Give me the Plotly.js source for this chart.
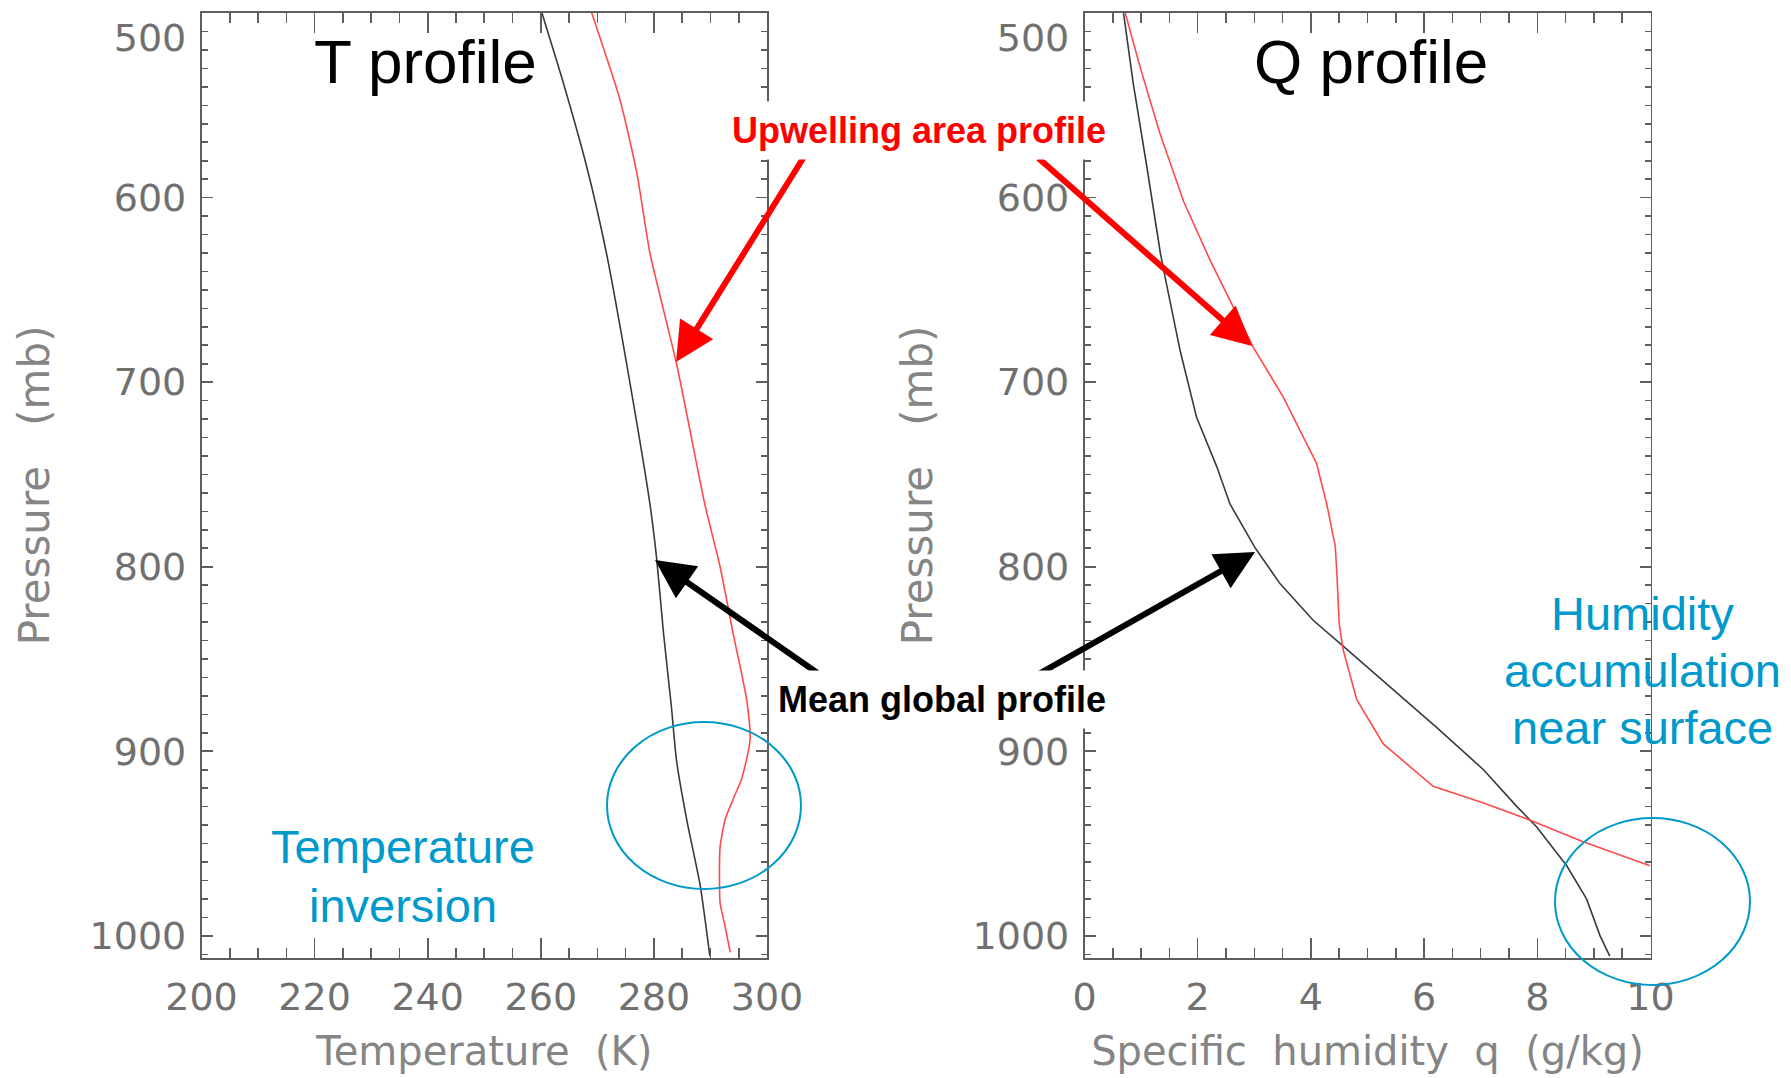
<!DOCTYPE html>
<html>
<head>
<meta charset="utf-8">
<script src="https://cdn.plot.ly/plotly-3.0.1.min.js"></script>
<style>
html,body{margin:0;padding:0;background:#fff;}
#chart{width:1791px;height:1078px;}
</style>
</head>
<body>
<div id="chart"></div>
<script>
// ---------------- data ----------------
// Temperature profiles (pressure in mb, temperature in K)
const tMeanP = [500, 538, 583, 630, 701, 766, 796, 836, 876, 905, 937, 973, 1011];
const tMeanK = [260.2, 264.0, 268.1, 271.6, 275.8, 279.3, 280.5, 281.7, 283.1, 284.0, 285.8, 288.2, 289.9];
const tUpP   = [500, 547, 587, 630, 690, 766, 800, 836, 872, 894, 915, 926, 937, 952, 970, 982, 995, 1009];
const tUpK   = [269.0, 274.0, 277.0, 279.3, 284.0, 289.0, 291.7, 294.0, 296.4, 297.0, 295.5, 294.0, 292.6, 291.7, 291.6, 291.7, 292.6, 293.5];
// Specific humidity profiles (pressure in mb, q in g/kg)
const qMeanP = [500, 538, 583, 630, 647, 683, 719, 746, 766, 790, 809, 829, 843, 865, 887, 910, 930, 941, 962, 980, 1000, 1011];
const qMeanV = [0.69, 0.86, 1.10, 1.34, 1.45, 1.69, 1.98, 2.34, 2.57, 3.02, 3.45, 4.04, 4.57, 5.40, 6.22, 7.05, 7.64, 7.99, 8.52, 8.87, 9.11, 9.28];
const qUpP   = [500, 529, 565, 602, 634, 659, 681, 708, 744, 766, 789, 804, 831, 845, 872, 896, 919, 928, 938, 949, 962];
const qUpV   = [0.72, 0.98, 1.33, 1.75, 2.22, 2.63, 2.98, 3.51, 4.10, 4.28, 4.43, 4.46, 4.50, 4.57, 4.81, 5.28, 6.16, 7.05, 7.93, 8.81, 9.99];
// tick labels
const tempTicks  = [200, 220, 240, 260, 280, 300];
const humTicks   = [0, 2, 4, 6, 8, 10];
const pressTicks = [500, 600, 700, 800, 900, 1000];

// ---------------- layout helpers ----------------
const W = 1791, H = 1078;
const px = v => v / W;
const py = v => 1 - v / H;

const axisCol = '#5e5e5e';
const tickFont = {family: 'DejaVu Sans', size: 38, color: '#707070'};
const xTitleFont = {family: 'DejaVu Sans', size: 40, color: '#858585'};
const yTitleFont = {family: 'DejaVu Sans', size: 42, color: '#858585'};
const blue = '#0099cc';

// the label sitting on the top edge of the frame is pushed down (as in the reference) so it is not cut off
const pressText = pressTicks.map((v, i) => i === 0 ? '<br>' + v : String(v));

function xAx(domain, range, ticks, minorDt, title, anchor) {
  return {
    domain: domain, range: range, anchor: anchor, autorange: false,
    tickmode: 'array', tickvals: ticks, ticktext: ticks.map(String),
    ticks: 'inside', ticklen: 20, tickwidth: 1.6, tickcolor: axisCol,
    minor: {tickmode: 'linear', tick0: range[0], dtick: minorDt, ticks: 'inside', ticklen: 10, tickwidth: 1.6, tickcolor: axisCol, showgrid: false},
    showline: true, linecolor: axisCol, linewidth: 1.6, mirror: 'ticks',
    showgrid: false, zeroline: false, tickfont: tickFont, ticklabelstandoff: 5,
    ticklabeloverflow: 'allow',
    title: {text: title, font: xTitleFont, standoff: 19}
  };
}
function yAx(anchor) {
  return {
    domain: [py(958), py(12.7)], range: [1012, 499.8], anchor: anchor, autorange: false,
    tickmode: 'array', tickvals: pressTicks, ticktext: pressText,
    ticks: 'inside', ticklen: 11, tickwidth: 1.6, tickcolor: axisCol,
    minor: {tickmode: 'linear', tick0: 500, dtick: 10, ticks: 'inside', ticklen: 6, tickwidth: 1.6, tickcolor: axisCol, showgrid: false},
    showline: true, linecolor: axisCol, linewidth: 1.6, mirror: 'ticks',
    showgrid: false, zeroline: false, tickfont: tickFont, ticklabelstandoff: 6,
    ticklabeloverflow: 'allow',
    title: {text: 'Pressure   (mb)', font: yTitleFont, standoff: 27}
  };
}

const blackLine = {color: '#3a3a3a', width: 1.6};
const redLine = {color: '#ff4a4a', width: 1.6};
const blackSmooth = {color: '#3a3a3a', width: 1.6, shape: 'spline', smoothing: 0.6};
const redSmooth = {color: '#ff4a4a', width: 1.6, shape: 'spline', smoothing: 0.6};

const traces = [
  {x: tMeanK, y: tMeanP, xaxis: 'x', yaxis: 'y', mode: 'lines', line: blackSmooth, name: 'Mean global profile', showlegend: false},
  {x: tUpK, y: tUpP, xaxis: 'x', yaxis: 'y', mode: 'lines', line: redSmooth, name: 'Upwelling area profile', showlegend: false},
  {x: qMeanV, y: qMeanP, xaxis: 'x2', yaxis: 'y2', mode: 'lines', line: blackLine, name: 'Mean global profile', showlegend: false},
  {x: qUpV, y: qUpP, xaxis: 'x2', yaxis: 'y2', mode: 'lines', line: redLine, name: 'Upwelling area profile', showlegend: false}
];

function label(text, cx, cy, font, extra) {
  return Object.assign({xref: 'paper', yref: 'paper', x: px(cx), y: py(cy), xanchor: 'center', yanchor: 'middle',
    text: text, showarrow: false, font: font}, extra || {});
}
function arrow(tip, tail, color) {
  return {xref: 'paper', yref: 'paper', x: px(tip[0]), y: py(tip[1]), ax: tail[0] - tip[0], ay: tail[1] - tip[1],
    text: '', showarrow: true, arrowhead: 2, arrowsize: 1.3, arrowwidth: 6, arrowcolor: color};
}

const annotations = [
  label('T profile', 425, 61, {family: 'Liberation Sans', size: 62, color: '#000'}),
  label('Q profile', 1371, 61, {family: 'Liberation Sans', size: 62, color: '#000'}),
  arrow([676, 362], [807, 152], '#ff0000'),
  arrow([1252, 346], [1037, 157], '#ff0000'),
  arrow([655, 560], [819, 674], '#000000'),
  arrow([1255, 552], [1037, 675], '#000000'),
  label('<b>Upwelling area profile</b>', 919, 130, {family: 'Liberation Sans', size: 36, color: '#ff0000'}, {bgcolor: '#ffffff', borderpad: 8}),
  label('<b>Mean global profile</b>', 942, 699, {family: 'Liberation Sans', size: 36, color: '#000000'}, {bgcolor: '#ffffff', borderpad: 8}),
  label('Temperature', 403, 846, {family: 'Liberation Sans', size: 47, color: blue}),
  label('inversion', 403, 905, {family: 'Liberation Sans', size: 47, color: blue}),
  label('Humidity', 1642, 613, {family: 'Liberation Sans', size: 47, color: blue}),
  label('accumulation', 1642, 670, {family: 'Liberation Sans', size: 47, color: blue}),
  label('near surface', 1642, 727, {family: 'Liberation Sans', size: 47, color: blue})
];

const shapes = [
  {type: 'circle', xref: 'paper', yref: 'paper', x0: px(607), x1: px(801), y0: py(889), y1: py(722), line: {color: blue, width: 2}},
  {type: 'circle', xref: 'paper', yref: 'paper', x0: px(1555), x1: px(1750), y0: py(985), y1: py(818), line: {color: blue, width: 2}}
];

const layout = {
  width: W, height: H,
  margin: {l: 0, r: 0, t: 0, b: 0, autoexpand: false},
  paper_bgcolor: '#ffffff', plot_bgcolor: '#ffffff',
  showlegend: false,
  xaxis: xAx([px(201.5), px(767)], [200, 300], tempTicks, 5, 'Temperature  (K)', 'y'),
  yaxis: yAx('x'),
  xaxis2: xAx([px(1084.5), px(1650.5)], [0, 10], humTicks, 0.5, 'Specific  humidity  q  (g/kg)', 'y2'),
  yaxis2: yAx('x2'),
  annotations: annotations,
  shapes: shapes
};

Plotly.newPlot('chart', traces, layout, {staticPlot: true, displayModeBar: false});
</script>
</body>
</html>
